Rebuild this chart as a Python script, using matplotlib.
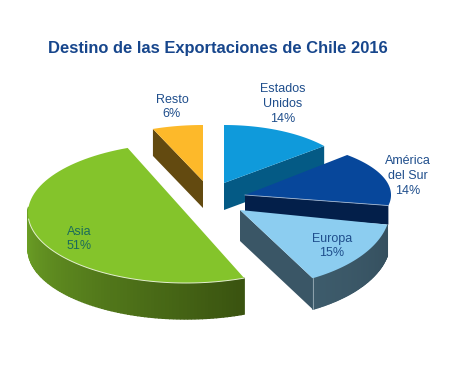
import numpy as np
import matplotlib
matplotlib.use('Agg')
import matplotlib.pyplot as plt

plt.rcParams['font.family'] = ['Liberation Sans', 'DejaVu Sans']

labels = ['Estados\nUnidos', 'América\ndel Sur', 'Europa', 'Asia', 'Resto']
shares = [14, 14, 15, 51, 6]

top_colors = ['#0F9ADB', '#07479B', '#8CCDF0', '#84C42B', '#FDB92A']
side_colors = ['#045A85', '#031F4A', '#3A5666', '#5F8C1E', '#634A10']
text_colors = ['#1F4E8C', '#1F4E8C', '#1F4E8C', '#1C6B5A', '#1F4E8C']

# apex of each exploded slice in image pixels, ellipse radii, wall height
apex_x = [224, 245, 240, 186, 203]
apex_y = [183, 195, 210, 213, 181]
radius_x = [130, 146, 150, 158, 136]
radius_y = [58, 56, 78, 70, 56]
depth = [27, 19, 31, 36, 27]
# the perspective of the picture bends the sweep of some slices a bit
turn = [0, 6, 0, -3.6, 0]
stretch = [1, 1.12, 0.93, 0.98, 1]
label_x = [283, 408, 332, 79, 172]
label_y = [104, 176, 246, 239, 107]


def arc(i, a0, a1, n=80):
    t = np.radians(np.linspace(a0, a1, n))
    x = apex_x[i] + radius_x[i] * np.cos(t)
    y = apex_y[i] - radius_y[i] * np.sin(t)
    return x, y


def radial_wall(ax, i, angle):
    x, y = arc(i, angle, angle, 1)
    px = [apex_x[i], x[0], x[0], apex_x[i]]
    py = [apex_y[i], y[0], y[0] + depth[i], apex_y[i] + depth[i]]
    ax.fill(px, py, color=side_colors[i], lw=0)


def outer_wall(ax, i, a0, a1, c0, c1, n=90):
    x, y = arc(i, a0, a1, n)
    c0 = np.array(matplotlib.colors.to_rgb(c0))
    c1 = np.array(matplotlib.colors.to_rgb(c1))
    for k in range(n - 1):
        f = k / (n - 2)
        ax.fill([x[k], x[k + 1], x[k + 1], x[k]],
                [y[k], y[k + 1], y[k + 1] + depth[i], y[k] + depth[i]],
                color=c0 + (c1 - c0) * f, lw=1)


fig = plt.figure(figsize=(4.64, 3.81), dpi=100)
ax = fig.add_axes([0, 0, 1, 1])
ax.set_xlim(0, 464)
ax.set_ylim(381, 0)
ax.axis('off')

start = 90.0
angles = []
for i, s in enumerate(shares):
    end = start - s * 3.6
    a0 = start + turn[i]
    angles.append((a0, a0 - s * 3.6 * stretch[i]))
    start = end

# walls first, then tops
radial_wall(ax, 0, angles[0][1])
radial_wall(ax, 1, angles[1][1])
radial_wall(ax, 4, angles[4][0])
radial_wall(ax, 2, angles[2][1])
outer_wall(ax, 2, angles[2][1], angles[2][0], '#3E5C6C', '#35505F')
outer_wall(ax, 3, -185, angles[3][0], '#6FA527', '#3A5310')

for i in range(len(shares)):
    x, y = arc(i, angles[i][0], angles[i][1])
    ax.fill(np.r_[apex_x[i], x], np.r_[apex_y[i], y], color=top_colors[i], lw=0)

# thin light rim along the front edges
x, y = arc(3, -175, angles[3][0])
ax.plot(x, y, color='#E4F0D0', lw=0.7)
x, y = arc(1, angles[1][1], angles[1][1], 1)
ax.plot([apex_x[1], x[0]], [apex_y[1], y[0]], color='#9FB4CF', lw=0.6)
x, y = arc(2, angles[2][1], angles[2][1], 1)
ax.plot([x[0], x[0]], [y[0], y[0] + depth[2]], color='#8FA3AE', lw=0.7)

for i in range(len(shares)):
    ax.text(label_x[i], label_y[i], '%s\n%d%%' % (labels[i], shares[i]),
            color=text_colors[i], fontsize=9, ha='center', va='center', linespacing=1.32)

ax.text(48, 48.5, 'Destino de las Exportaciones de Chile 2016', color='#17468C',
        fontsize=11.9, fontweight='bold', ha='left', va='center')

fig.savefig('out.png', dpi=100)
